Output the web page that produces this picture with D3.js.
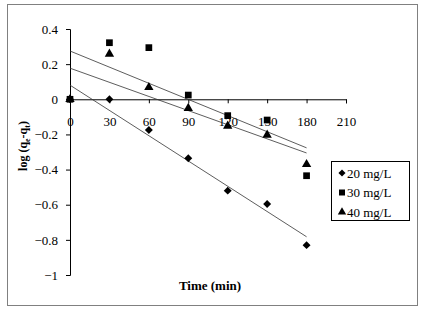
<!DOCTYPE html>
<html>
<head>
<meta charset="utf-8">
<script src="https://cdn.jsdelivr.net/npm/d3@7"></script>
<style>
  body { margin: 0; background: #fff; }
  text { font-family: "Liberation Serif", "Times New Roman", serif; }
</style>
</head>
<body>
<svg id="chart" width="426" height="310"></svg>
<script>
// time points (min)
const times = [0, 30, 60, 90, 120, 150, 180];
// log(qe-qt) per concentration
const series20 = [0, 0, -0.175, -0.336, -0.52, -0.596, -0.83];
const series30 = [0, 0.322, 0.294, 0.024, -0.093, -0.118, -0.435];
const series40 = [0, 0.258, 0.068, -0.051, -0.152, -0.203, -0.37];
const seriesNames = ["20 mg/L", "30 mg/L", "40 mg/L"];
const xTicks = [0, 30, 60, 90, 120, 150, 180, 210];
const yTicks = [0.4, 0.2, 0, -0.2, -0.4, -0.6, -0.8, -1];

const svg = d3.select("#chart");

// outer frame
svg.append("rect")
    .attr("x", 7.5).attr("y", 4.5)
    .attr("width", 410).attr("height", 301)
    .attr("fill", "none").attr("stroke", "#808080");

const x = d3.scaleLinear().domain([0, 210]).range([70, 346]);
const y = d3.scaleLinear().domain([-1, 0.4]).range([275, 29]);

// linear trendline (least squares), drawn from 0 to 180
function fit(xs, ys) {
    const mx = d3.mean(xs), my = d3.mean(ys);
    let sxy = 0, sxx = 0;
    xs.forEach((v, i) => { sxy += (v - mx) * (ys[i] - my); sxx += (v - mx) * (v - mx); });
    const b = sxy / sxx;
    return { a: my - b * mx, b: b };
}

const allSeries = [
    { name: seriesNames[0], values: series20, shape: d3.symbolDiamond2, size: 40 },
    { name: seriesNames[1], values: series30, shape: d3.symbolSquare, size: 45 },
    { name: seriesNames[2], values: series40, shape: d3.symbolTriangle, size: 38 }
];

// y axis
const yAxis = svg.append("g")
    .attr("transform", `translate(${x(0)},0)`)
    .attr("font-family", "Liberation Serif")
    .call(d3.axisLeft(y).tickValues(yTicks).tickSize(4).tickFormat(d => d3.format("")(d)));
yAxis.select(".domain").attr("stroke", "#000");
yAxis.selectAll("text")
    .attr("x", -12)
    .attr("font-size", 13)
    .attr("fill", "#000");

// x axis at y = 0
const xAxis = svg.append("g")
    .attr("transform", `translate(0,${y(0)})`)
    .attr("font-family", "Liberation Serif")
    .call(d3.axisBottom(x).tickValues(xTicks).tickSize(4).tickFormat(d3.format("d")));
xAxis.selectAll("text")
    .attr("y", 17)
    .attr("font-size", 13)
    .attr("fill", "#000");

// trendlines
allSeries.forEach(s => {
    const f = fit(times, s.values);
    svg.append("line")
        .attr("x1", x(0)).attr("y1", y(f.a))
        .attr("x2", x(180)).attr("y2", y(f.a + f.b * 180))
        .attr("stroke", "#333").attr("stroke-width", 0.8);
});

// markers
allSeries.forEach(s => {
    svg.selectAll(null)
        .data(s.values.map((v, i) => [times[i], v]))
        .enter()
        .append("path")
        .attr("d", d3.symbol().type(s.shape).size(s.size))
        .attr("transform", d => `translate(${x(d[0])},${y(d[1])})`)
        .attr("fill", "#000");
});

// axis titles
svg.append("text")
    .attr("x", 210).attr("y", 290)
    .attr("text-anchor", "middle")
    .attr("font-size", 13).attr("font-weight", "bold")
    .text("Time (min)");

const yt = svg.append("text")
    .attr("transform", "translate(27,146) rotate(-90)")
    .attr("text-anchor", "middle")
    .attr("font-size", 12).attr("font-weight", "bold");
yt.append("tspan").text("log (q");
yt.append("tspan").attr("font-size", 8).attr("dy", 3).text("e");
yt.append("tspan").attr("dy", -3).text("-q");
yt.append("tspan").attr("font-size", 8).attr("dy", 3).text("t");
yt.append("tspan").attr("dy", -3).text(")");

// legend
const legend = svg.append("g");
legend.append("rect")
    .attr("x", 331.5).attr("y", 161.5)
    .attr("width", 78).attr("height", 59)
    .attr("fill", "#fff").attr("stroke", "#000");
allSeries.forEach((s, i) => {
    const ly = 173 + i * 19.5;
    legend.append("path")
        .attr("d", d3.symbol().type(s.shape).size(s.size * 0.8))
        .attr("transform", `translate(342,${ly})`)
        .attr("fill", "#000");
    legend.append("text")
        .attr("x", 347).attr("y", ly + 4.5)
        .attr("font-size", 13)
        .text(s.name);
});
</script>
</body>
</html>
